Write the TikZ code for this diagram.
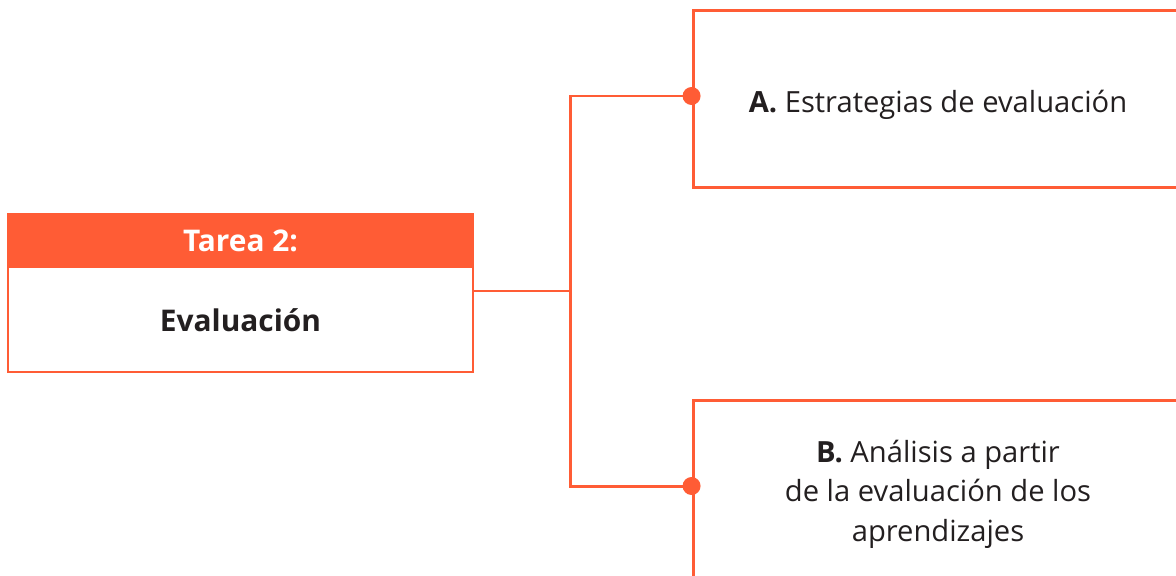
\documentclass[tikz,border=0pt]{standalone}
\usepackage{fontspec}
\setmainfont{Open Sans}
\usepackage{tikz}
\usetikzlibrary{positioning,calc}
\usepackage{xcolor}
\definecolor{naranja}{HTML}{FF5C35}
\definecolor{tinta}{HTML}{231F20}
\tikzset{
  every node/.style={font=\rmfamily, text=tinta},
  cabecera/.style={
    fill=naranja,
    minimum width=9.3cm,
    minimum height=1.08cm,
    inner sep=0pt,
    font=\fontsize{17}{20}\selectfont\bfseries,
    text=white
  },
  cuerpo/.style={
    minimum width=9.3cm,
    minimum height=2.06cm,
    inner sep=0pt,
    font=\fontsize{17}{20}\selectfont\bfseries
  },
  opcion/.style={
    draw=naranja,
    line width=1.7pt,
    minimum width=9.8cm,
    minimum height=3.56cm,
    inner sep=0pt,
    align=center,
    font=\fontsize{16.6}{22.7}\selectfont
  },
  conector/.style={draw=naranja, line width=1.7pt},
  punto/.style={circle, fill=naranja, inner sep=0pt, minimum size=0.36cm}
}

\begin{document}
\begin{tikzpicture}[x=0.02cm, y=-0.02cm]
  \useasboundingbox (0,0) rectangle (1176,575);
  \clip (0,0) rectangle (1176,575);

  % Tarea
  \node[cabecera] (tarea) at (240.5,241) {Tarea 2:};
  \node[cuerpo, below=0pt of tarea] (evaluacion) {Evaluación};
  \draw[naranja, line width=1.1pt] (tarea.north west) rectangle (evaluacion.south east);

  % Opciones
  \node[opcion] (estrategias) at (938,99) {\raisebox{-0.12cm}[\height][\depth]{\textbf{A.} Estrategias de evaluación}};
  \node[opcion] (analisis) at (938,489) {\\[-0.14cm]\textbf{B.} Análisis a partir\\de la evaluación de los\\aprendizajes};

  % Conectores
  \coordinate (rama) at (570,291);
  \coordinate (entradaA) at ([yshift=0.06cm]estrategias.west);
  \coordinate (entradaB) at ([yshift=0.06cm]analisis.west);
  \draw[conector] (evaluacion.east |- rama) -- (rama);
  \draw[conector] (rama) |- (entradaA);
  \draw[conector] (rama) |- (entradaB);
  \node[punto] (puntoA) at (entradaA) {};
  \node[punto] (puntoB) at (entradaB) {};
\end{tikzpicture}
\end{document}
